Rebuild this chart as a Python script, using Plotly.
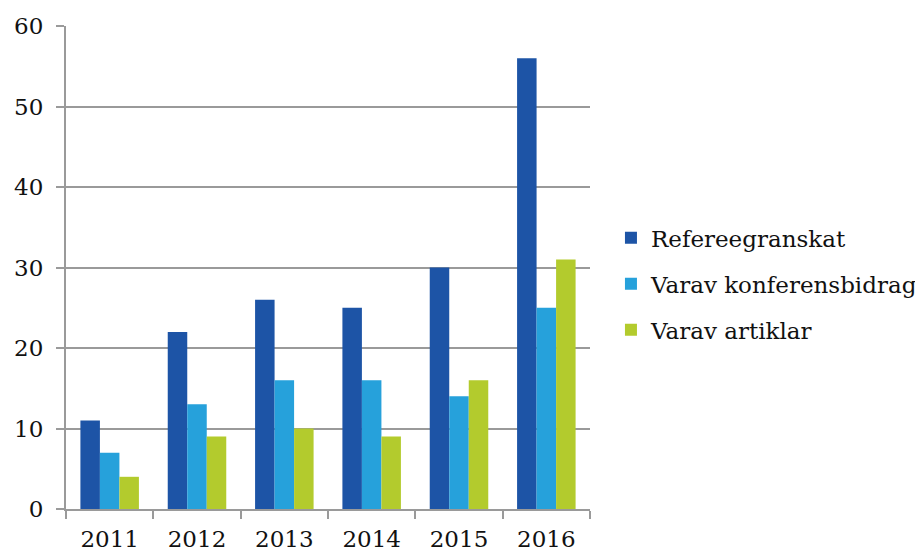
import plotly.graph_objects as go

years = ["2011", "2012", "2013", "2014", "2015", "2016"]
refereegranskat = [11, 22, 26, 25, 30, 56]
konferensbidrag = [7, 13, 16, 16, 14, 25]
artiklar = [4, 9, 10, 9, 16, 31]
y_ticks = [0, 10, 20, 30, 40, 50, 60]

FONT = "DejaVu Serif"
GRID = "#9a9a9a"

fig = go.Figure()
series = [
    ("Refereegranskat", refereegranskat, "#1D54A6"),
    ("Varav konferensbidrag", konferensbidrag, "#26A1DB"),
    ("Varav artiklar", artiklar, "#B3CB2D"),
]
for i, (name, vals, col) in enumerate(series):
    fig.add_trace(go.Bar(x=years, y=vals, name=name, marker_color=col,
                         marker_line_width=0, legendgroup=f"g{i}"))

fig.update_layout(
    width=923, height=551,
    margin=dict(l=58, r=341, t=18, b=50, autoexpand=False),
    paper_bgcolor="white", plot_bgcolor="white",
    barmode="group", bargap=0.33, bargroupgap=0,
    font=dict(family=FONT, size=23, color="#111"),
    legend=dict(x=1.040, y=0.466, xanchor="left", yanchor="middle",
                bgcolor="rgba(0,0,0,0)",
                font=dict(family=FONT, size=23, color="#111"),
                tracegroupgap=13, itemwidth=30),
    showlegend=True,
)
fig.update_xaxes(type="category", tickson="boundaries", ticks="outside", ticklen=8,
                 tickcolor=GRID, tickwidth=2, showline=True, linecolor=GRID, linewidth=2,
                 showgrid=False, tickfont=dict(size=23), tickangle=0,
                 ticklabelstandoff=8)
fig.update_yaxes(range=[0, 60], tickvals=y_ticks, ticks="outside", ticklen=8,
                 tickcolor=GRID, tickwidth=2, showline=True, linecolor=GRID, linewidth=2,
                 gridcolor=GRID, gridwidth=2, zeroline=False, tickfont=dict(size=23),
                 ticklabelstandoff=8)

fig.write_html("out.html")
